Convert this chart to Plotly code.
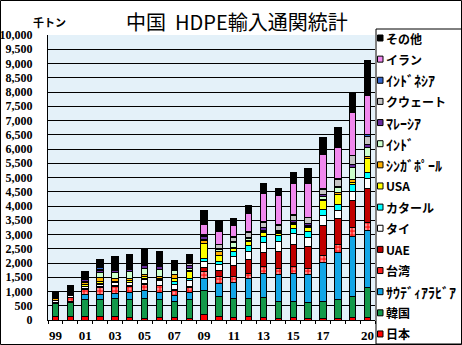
import plotly.graph_objects as go

years = [str(y) for y in range(1999, 2021)]
tick_labels = ["99", "", "01", "", "03", "", "05", "", "07", "", "09", "",
               "11", "", "13", "", "15", "", "17", "", "", "20"]

# series values (thousand tons), bottom of stack first
japan      = [120, 130, 130, 140, 140, 100, 70, 100, 90, 70, 180, 130, 90, 140, 90, 60, 80, 70, 60, 60, 80, 95]
korea      = [450, 490, 590, 580, 600, 620, 700, 620, 570, 650, 860, 700, 670, 620, 710, 590, 560, 530, 580, 665, 750, 1055]
saudi      = [20, 30, 160, 170, 200, 250, 270, 260, 200, 240, 400, 440, 560, 690, 840, 950, 990, 1000, 1370, 1650, 2095, 1985]
taiwan     = [20, 130, 180, 240, 230, 210, 210, 220, 160, 180, 260, 250, 200, 190, 230, 210, 250, 210, 270, 280, 315, 280]
uae        = [20, 20, 30, 40, 30, 30, 20, 20, 60, 50, 150, 200, 380, 470, 500, 590, 780, 765, 1020, 915, 950, 1205]
thai       = [40, 60, 70, 90, 100, 90, 150, 180, 180, 200, 220, 230, 320, 310, 350, 350, 370, 335, 360, 280, 315, 330]
qatar      = [0, 0, 20, 30, 20, 20, 20, 20, 80, 60, 90, 100, 200, 190, 200, 210, 190, 180, 220, 220, 255, 230]
usa        = [20, 30, 60, 60, 40, 60, 100, 20, 130, 250, 520, 230, 100, 140, 150, 70, 140, 150, 310, 340, 80, 490]
singapore  = [50, 50, 60, 130, 100, 90, 60, 80, 120, 40, 100, 120, 40, 40, 30, 30, 30, 40, 50, 50, 100, 60]
india      = [20, 40, 60, 200, 220, 220, 200, 250, 140, 80, 60, 60, 150, 60, 50, 30, 40, 40, 80, 180, 420, 320]
malaysia   = [20, 20, 50, 60, 40, 90, 100, 120, 40, 100, 100, 60, 60, 60, 80, 50, 50, 60, 80, 40, 100, 115]
kuwait     = [0, 20, 30, 40, 40, 20, 30, 20, 50, 70, 40, 120, 130, 150, 200, 190, 190, 200, 190, 260, 300, 270]
indonesia  = [0, 0, 20, 50, 20, 20, 20, 10, 20, 20, 20, 20, 30, 30, 20, 20, 30, 30, 20, 20, 20, 80]
iran       = [0, 0, 0, 0, 0, 0, 0, 0, 0, 0, 350, 460, 400, 660, 1000, 1010, 1100, 1190, 1200, 1090, 1500, 1355]
others     = [190, 180, 250, 290, 440, 480, 540, 500, 260, 290, 500, 380, 220, 280, 330, 240, 370, 500, 610, 710, 720, 1250]

names = ["日本", "韓国", "ｻｳﾃﾞｨｱﾗﾋﾞｱ", "台湾", "UAE", "タイ", "カタール", "USA",
         "ｼﾝｶﾞﾎﾟｰﾙ", "ｲﾝﾄﾞ", "ﾏﾚｰｼｱ", "クウェート", "ｲﾝﾄﾞﾈｼｱ", "イラン", "その他"]
series = [japan, korea, saudi, taiwan, uae, thai, qatar, usa,
          singapore, india, malaysia, kuwait, indonesia, iran, others]
colors = ["#ff0000", "#139a4a", "#12a6e6", "#ff2020", "#c00000", "#ffffff", "#00ffff", "#ffff00",
          "#ffb000", "#ccffcc", "#6a2c9e", "#c4c4c4", "#3366cc", "#f088ee", "#000000"]

fig = go.Figure()
for name, vals, col in zip(names, series, colors):
    marker = dict(color=col, line=dict(color="black", width=1))
    if name == "台湾":
        marker["pattern"] = dict(shape=".", fillmode="overlay", fgcolor="white",
                                 bgcolor="#ff2020", size=4, solidity=0.45)
    fig.add_trace(go.Bar(x=years, y=vals, name=name, marker=marker, showlegend=False))

# plot area geometry in pixels (462x345 page)
L, R, T, B = 48, 375, 35, 320
W, H = 462, 345
def xp(px):
    return (px - L) / (R - L)
def yp(py):
    return (B - py) / (B - T)

shapes = []
annotations = []

# outer chart border
shapes.append(dict(type="rect", xref="paper", yref="paper",
                   x0=xp(0.5), x1=xp(W - 0.5), y0=yp(H - 0.5), y1=yp(0.5),
                   line=dict(color="black", width=1), fillcolor="rgba(0,0,0,0)", layer="above"))

# custom legend box
shapes.append(dict(type="rect", xref="paper", yref="paper",
                   x0=xp(376), x1=xp(W - 0.5), y0=yp(344), y1=yp(29),
                   line=dict(color="black", width=1), fillcolor="white", layer="above"))
leg_names = names[::-1]
leg_colors = colors[::-1]

def is_halfwidth(s):
    return any(0xFF61 <= ord(c) <= 0xFF9F for c in s)

for i, (nm, col) in enumerate(zip(leg_names, leg_colors)):
    cy = 38 + i * 21.14
    shapes.append(dict(type="rect", xref="paper", yref="paper",
                       x0=xp(377.5), x1=xp(383), y0=yp(cy + 3), y1=yp(cy - 3),
                       line=dict(color="black", width=1), fillcolor=col, layer="above"))
    size = 14 if is_halfwidth(nm) else 12
    annotations.append(dict(text=nm, xref="paper", yref="paper", x=xp(384), y=yp(cy),
                            xanchor="left", yanchor="middle", showarrow=False,
                            font=dict(family="Noto Sans CJK JP", size=size, color="black", weight="bold")))

# title and unit
annotations.append(dict(text="中国  HDPE輸入通関統計", xref="paper", yref="paper",
                        x=xp(237), y=yp(21), xanchor="center", yanchor="middle", showarrow=False,
                        font=dict(family="Noto Sans CJK JP", size=20, color="black")))
annotations.append(dict(text="千トン", xref="paper", yref="paper",
                        x=xp(49), y=yp(22), xanchor="center", yanchor="middle", showarrow=False,
                        font=dict(family="Noto Sans CJK JP", size=11, color="black", weight="bold")))

fig.update_layout(
    barmode="stack",
    bargap=0.57,
    width=W, height=H,
    margin=dict(l=L, r=W - R, t=T, b=H - B, pad=0, autoexpand=False),
    paper_bgcolor="white",
    plot_bgcolor="#e4f1f9",
    shapes=shapes,
    annotations=annotations,
    showlegend=False,
)
fig.update_xaxes(
    type="category",
    tickmode="array", tickvals=years, ticktext=tick_labels,
    tickson="boundaries", ticks="outside", ticklen=3, tickcolor="black",
    tickangle=0, automargin=False,
    showline=True, linecolor="black", linewidth=1,
    showgrid=False,
    tickfont=dict(family="Liberation Serif", size=13, color="black", weight="bold"),
    ticklabelstandoff=3,
)
fig.update_yaxes(
    range=[0, 10000], dtick=500, tickformat=",",
    showgrid=True, gridcolor="black", gridwidth=1,
    showline=True, linecolor="black", linewidth=1,
    zeroline=False, ticks="", automargin=False,
    tickfont=dict(family="Liberation Serif", size=12, color="black", weight="bold"),
    ticklabelstandoff=12,
)

fig.write_html("out.html")
